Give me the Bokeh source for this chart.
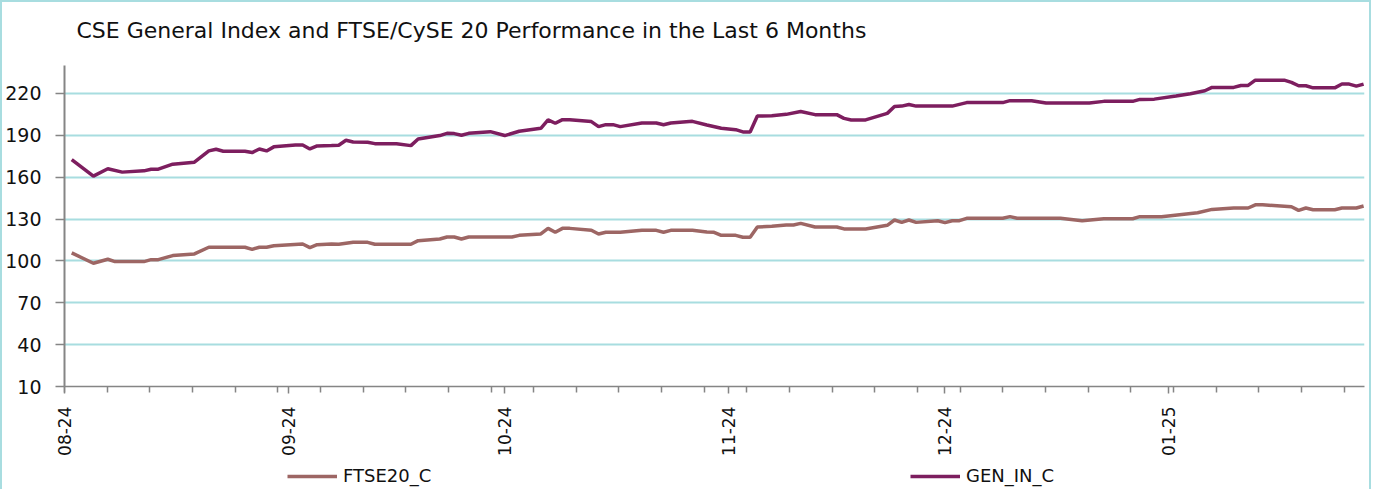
import numpy as np
import pandas as pd
from bokeh.plotting import figure
from bokeh.layouts import column
from bokeh.models import (FixedTicker, DatetimeTickFormatter, Legend, LegendItem,
                          Range1d, ColumnDataSource, Label)
from bokeh.embed import file_html
from bokeh.resources import INLINE

title_text = "CSE General Index and FTSE/CySE 20 Performance in the Last 6 Months"

gen_name = "GEN_IN_C"
gen_dates = [
    "2024-08-02", "2024-08-05", "2024-08-07", "2024-08-09", "2024-08-12", "2024-08-13",
    "2024-08-14", "2024-08-16", "2024-08-19", "2024-08-21", "2024-08-22", "2024-08-23",
    "2024-08-26", "2024-08-27", "2024-08-28", "2024-08-29", "2024-08-30", "2024-09-02",
    "2024-09-03", "2024-09-04", "2024-09-05", "2024-09-07", "2024-09-08", "2024-09-09",
    "2024-09-10", "2024-09-12", "2024-09-13", "2024-09-16", "2024-09-18", "2024-09-19",
    "2024-09-22", "2024-09-23", "2024-09-24", "2024-09-25", "2024-09-26", "2024-09-29",
    "2024-10-01", "2024-10-03", "2024-10-06", "2024-10-07", "2024-10-08", "2024-10-09",
    "2024-10-10", "2024-10-13", "2024-10-14", "2024-10-15", "2024-10-16", "2024-10-17",
    "2024-10-20", "2024-10-22", "2024-10-23", "2024-10-24", "2024-10-27", "2024-10-29",
    "2024-10-31", "2024-11-02", "2024-11-03", "2024-11-04", "2024-11-05", "2024-11-07",
    "2024-11-09", "2024-11-11", "2024-11-13", "2024-11-16", "2024-11-17", "2024-11-18",
    "2024-11-20", "2024-11-23", "2024-11-24", "2024-11-25", "2024-11-26", "2024-11-27",
    "2024-12-02", "2024-12-04", "2024-12-09", "2024-12-10", "2024-12-13", "2024-12-15",
    "2024-12-21", "2024-12-23", "2024-12-27", "2024-12-28", "2024-12-30", "2025-01-02",
    "2025-01-04", "2025-01-06", "2025-01-07", "2025-01-10", "2025-01-11", "2025-01-12",
    "2025-01-13", "2025-01-17", "2025-01-18", "2025-01-19", "2025-01-20", "2025-01-21",
    "2025-01-24", "2025-01-25", "2025-01-26", "2025-01-27", "2025-01-28",
]
gen_values = [
    172.6, 160.7, 166.0, 163.6, 164.5, 165.7,
    165.7, 169.3, 170.7, 178.8, 180.0, 178.6,
    178.6, 177.6, 180.2, 178.8, 181.7, 183.1,
    183.1, 180.2, 182.4, 182.6, 182.9, 186.4,
    185.2, 185.0, 184.0, 184.0, 182.6, 187.4,
    189.8, 191.4, 191.2, 190.0, 191.4, 192.6,
    189.8, 192.9, 195.0, 201.0, 198.6, 201.2,
    201.2, 199.8, 196.2, 197.6, 197.6, 196.2,
    198.8, 198.8, 197.6, 198.8, 200.0, 197.4,
    195.0, 194.0, 192.4, 192.4, 203.8, 204.0,
    205.0, 207.1, 204.8, 204.8, 202.1, 201.0,
    201.0, 205.7, 210.7, 210.9, 212.1, 210.9,
    210.9, 213.4, 213.4, 214.8, 214.8, 213.1,
    213.1, 214.3, 214.3, 215.7, 215.9, 218.1,
    219.8, 221.9, 224.3, 224.3, 225.7, 225.7,
    229.5, 229.5, 227.9, 225.5, 225.5, 224.0,
    224.0, 226.7, 226.7, 225.2, 226.7,
]

ftse_name = "FTSE20_C"
ftse_dates = [
    "2024-08-02", "2024-08-05", "2024-08-07", "2024-08-08", "2024-08-12", "2024-08-13",
    "2024-08-14", "2024-08-16", "2024-08-19", "2024-08-21", "2024-08-26", "2024-08-27",
    "2024-08-28", "2024-08-29", "2024-08-30", "2024-09-03", "2024-09-04", "2024-09-05",
    "2024-09-07", "2024-09-08", "2024-09-10", "2024-09-12", "2024-09-13", "2024-09-18",
    "2024-09-19", "2024-09-22", "2024-09-23", "2024-09-24", "2024-09-25", "2024-09-26",
    "2024-10-02", "2024-10-03", "2024-10-06", "2024-10-07", "2024-10-08", "2024-10-09",
    "2024-10-10", "2024-10-13", "2024-10-14", "2024-10-15", "2024-10-17", "2024-10-20",
    "2024-10-22", "2024-10-23", "2024-10-24", "2024-10-27", "2024-10-29", "2024-10-30",
    "2024-10-31", "2024-11-02", "2024-11-03", "2024-11-04", "2024-11-05", "2024-11-07",
    "2024-11-09", "2024-11-10", "2024-11-11", "2024-11-13", "2024-11-16", "2024-11-17",
    "2024-11-20", "2024-11-23", "2024-11-24", "2024-11-25", "2024-11-26", "2024-11-27",
    "2024-11-30", "2024-12-01", "2024-12-02", "2024-12-03", "2024-12-04", "2024-12-09",
    "2024-12-10", "2024-12-11", "2024-12-17", "2024-12-20", "2024-12-23", "2024-12-27",
    "2024-12-28", "2024-12-31", "2025-01-05", "2025-01-07", "2025-01-10", "2025-01-12",
    "2025-01-13", "2025-01-14", "2025-01-18", "2025-01-19", "2025-01-20", "2025-01-21",
    "2025-01-24", "2025-01-25", "2025-01-27", "2025-01-28",
]
ftse_values = [
    105.7, 98.3, 101.2, 99.5, 99.5, 100.9,
    100.9, 103.8, 105.0, 109.8, 109.8, 108.3,
    109.8, 109.8, 110.9, 112.1, 109.5, 111.6,
    112.1, 111.9, 113.3, 113.3, 111.9, 111.9,
    114.5, 115.7, 117.1, 117.1, 115.7, 117.1,
    117.1, 118.3, 119.3, 123.3, 120.5, 123.3,
    123.3, 122.0, 119.3, 120.5, 120.5, 121.9,
    121.9, 120.5, 121.9, 121.9, 120.7, 120.5,
    118.3, 118.3, 116.9, 116.9, 124.3, 124.8,
    125.7, 125.7, 126.9, 124.3, 124.3, 122.9,
    122.9, 125.5, 129.3, 127.6, 129.3, 127.6,
    128.8, 127.4, 128.8, 128.8, 130.5, 130.5,
    131.7, 130.5, 130.5, 128.8, 130.2, 130.2,
    131.7, 131.7, 134.5, 136.9, 137.9, 137.9,
    140.2, 140.2, 138.8, 136.2, 137.9, 136.7,
    136.7, 137.9, 137.9, 139.3,
]

y_ticks = [10, 40, 70, 100, 130, 160, 190, 220]
month_ticks = ["2024-08-01", "2024-09-01", "2024-10-01", "2024-11-01", "2024-12-01", "2025-01-01"]

GEN_COLOR = "#7D1E5F"
FTSE_COLOR = "#9D6664"
GRID_COLOR = "#A8DDE0"
AXIS_COLOR = "#858585"
BORDER = "2px solid #A8DDE0"

x_start = pd.Timestamp("2024-08-01")
x_end = pd.Timestamp("2025-01-28 03:00")

def ms(ts):
    return pd.Timestamp(ts).value / 1e6

major = [ms(d) for d in month_ticks]
minor_step = 5.91 * 86400000.0
minor = [ms(x_start) + k * minor_step for k in range(31)]

def strip(height, styles):
    f = figure(width=1371, height=height, x_range=Range1d(0, 1), y_range=Range1d(0, 1),
               output_backend="svg", toolbar_location=None,
               x_axis_location=None, y_axis_location=None,
               min_border=0, background_fill_color="white", border_fill_color="white",
               styles=styles)
    f.outline_line_color = None
    f.xgrid.grid_line_color = None
    f.ygrid.grid_line_color = None
    return f

# title strip
tp = strip(65, {"border-left": BORDER, "border-right": BORDER, "border-top": BORDER})
tp.add_layout(Label(x=12, y=37, x_units="screen", y_units="screen", text=title_text,
                    text_font="DejaVu Sans", text_font_size="22px", text_color="#111111",
                    text_baseline="middle", text_align="left"))

# main chart
p = figure(width=1371, height=399, x_axis_type="datetime",
           x_range=Range1d(x_start, x_end), y_range=Range1d(10, 240),
           output_backend="svg", toolbar_location=None,
           min_border_left=59, min_border_right=9, min_border_top=0, min_border_bottom=78,
           background_fill_color="white", border_fill_color="white",
           styles={"border-left": BORDER, "border-right": BORDER})
p.outline_line_color = None

ftse_src = ColumnDataSource(dict(x=pd.to_datetime(ftse_dates), y=ftse_values))
gen_src = ColumnDataSource(dict(x=pd.to_datetime(gen_dates), y=gen_values))
r_ftse = p.line("x", "y", source=ftse_src, line_color=FTSE_COLOR, line_width=3.5)
r_gen = p.line("x", "y", source=gen_src, line_color=GEN_COLOR, line_width=3.5)

p.xgrid.grid_line_color = None
p.ygrid.grid_line_color = GRID_COLOR
p.ygrid.grid_line_width = 2

p.yaxis.ticker = FixedTicker(ticks=y_ticks)
p.yaxis.axis_line_color = AXIS_COLOR
p.yaxis.axis_line_width = 2
p.yaxis.major_tick_line_color = AXIS_COLOR
p.yaxis.major_tick_line_width = 1.5
p.yaxis.major_tick_out = 9
p.yaxis.major_tick_in = 0
p.yaxis.minor_tick_line_color = None
p.yaxis.major_label_text_font = "DejaVu Sans"
p.yaxis.major_label_text_font_size = "19px"
p.yaxis.major_label_text_color = "#111111"
p.yaxis.major_label_standoff = 14

p.xaxis.ticker = FixedTicker(ticks=major, minor_ticks=minor)
fmt = "%m-%y"
p.xaxis.formatter = DatetimeTickFormatter(
    microseconds=fmt, milliseconds=fmt, seconds=fmt, minsec=fmt, minutes=fmt,
    hourmin=fmt, hours=fmt, days=fmt, months=fmt, years=fmt)
p.xaxis.major_label_orientation = np.pi / 2
p.xaxis.axis_line_color = AXIS_COLOR
p.xaxis.axis_line_width = 1.5
p.xaxis.major_tick_line_color = AXIS_COLOR
p.xaxis.major_tick_line_width = 1.5
p.xaxis.major_tick_out = 7
p.xaxis.major_tick_in = 0
p.xaxis.minor_tick_line_color = AXIS_COLOR
p.xaxis.minor_tick_line_width = 1.5
p.xaxis.minor_tick_out = 6
p.xaxis.minor_tick_in = 0
p.xaxis.major_label_text_font = "DejaVu Sans"
p.xaxis.major_label_text_font_size = "17px"
p.xaxis.major_label_text_color = "#111111"
p.xaxis.major_label_standoff = 13

# legend strip (series drawn off-view; only the legend shows)
lp = strip(25, {"border-left": BORDER, "border-right": BORDER})
lf = lp.line("x", "y", source=ftse_src, line_color=FTSE_COLOR, line_width=3.5)
lg = lp.line("x", "y", source=gen_src, line_color=GEN_COLOR, line_width=3.5)

legend = Legend(items=[LegendItem(label=ftse_name, renderers=[lf]),
                       LegendItem(label=gen_name, renderers=[lg])],
                location=(223, 3), orientation="horizontal",
                glyph_width=50, glyph_height=20, label_height=20, label_width=567,
                label_standoff=6, padding=0, margin=0, spacing=0,
                border_line_color=None, background_fill_alpha=0,
                label_text_font="DejaVu Sans", label_text_font_size="18px",
                label_text_color="#111111")
lp.add_layout(legend)

layout = column(tp, p, lp, spacing=0)
open("out.html", "w").write(file_html(layout, INLINE))
